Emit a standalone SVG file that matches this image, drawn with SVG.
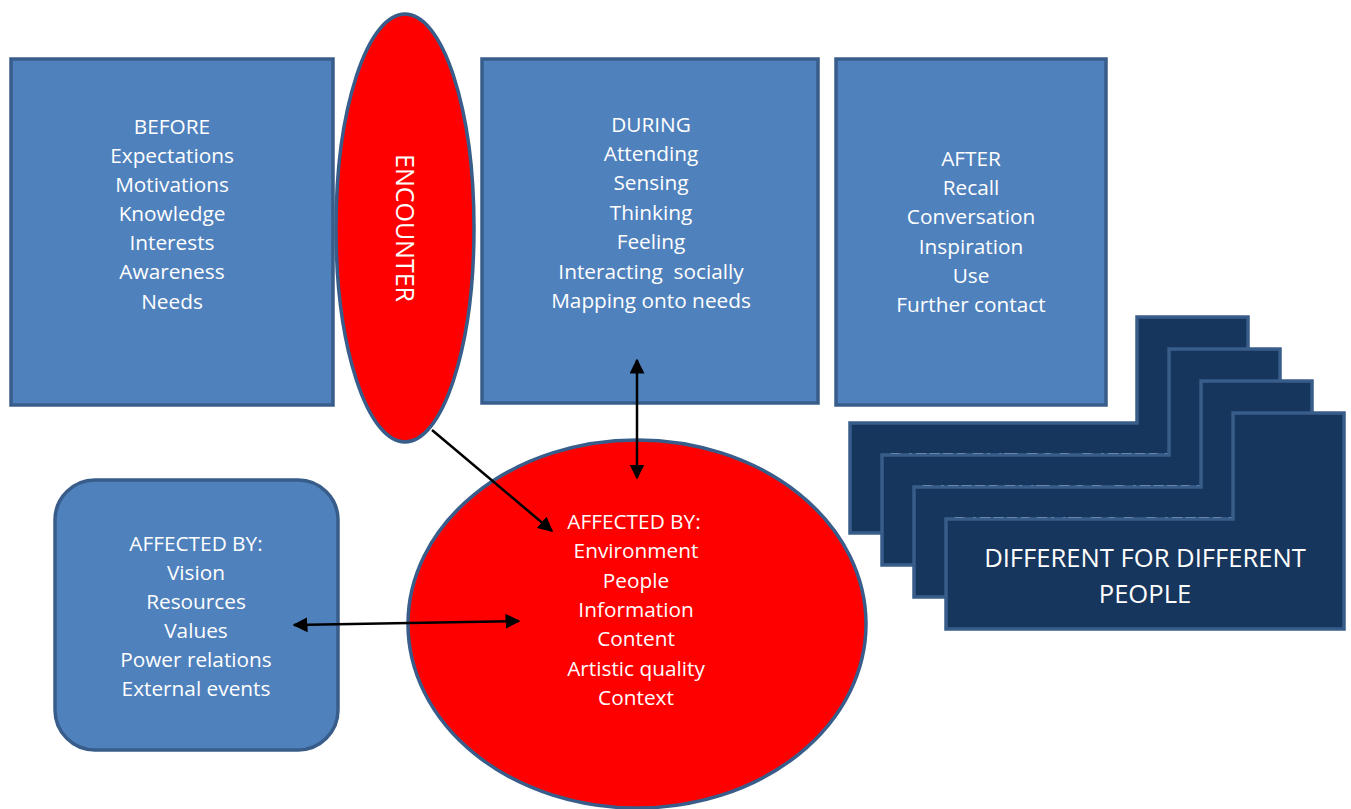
<svg xmlns="http://www.w3.org/2000/svg" width="1351" height="809" viewBox="0 0 1351 809">
<defs>
<style>
.box{fill:#4f81bd;stroke:#385d8a;stroke-width:3.5}
.red{fill:#ff0000;stroke:#385d8a;stroke-width:3.5}
.card{fill:#17365d;stroke:#385d8a;stroke-width:3.5}
text{font-family:"Open Sans","Liberation Sans",sans-serif;fill:#ffffff;text-anchor:middle}
.t{font-size:20.8px}
.c{font-size:25.6px}
.ln{stroke:#000;stroke-width:2.5;fill:none}
</style>
<marker id="ah" viewBox="0 0 10 10" refX="9" refY="5" markerWidth="6" markerHeight="6" markerUnits="strokeWidth" orient="auto-start-reverse">
<path d="M0,0 L10,5 L0,10 z" fill="#000"/>
</marker>
</defs>
<rect width="1351" height="809" fill="#ffffff"/>

<g id="before">
<rect class="box" x="11" y="59" width="322" height="346"/>
<text class="t" x="172" y="134">BEFORE</text>
<text class="t" x="172" y="163">Expectations</text>
<text class="t" x="172" y="192">Motivations</text>
<text class="t" x="172" y="221">Knowledge</text>
<text class="t" x="172" y="250">Interests</text>
<text class="t" x="172" y="279">Awareness</text>
<text class="t" x="172" y="309">Needs</text>
</g>

<g id="during">
<rect class="box" x="482" y="59" width="336" height="344"/>
<text class="t" x="651" y="132">DURING</text>
<text class="t" x="651" y="161">Attending</text>
<text class="t" x="651" y="190">Sensing</text>
<text class="t" x="651" y="220">Thinking</text>
<text class="t" x="651" y="249">Feeling</text>
<text class="t" x="651" y="279" xml:space="preserve">Interacting  socially</text>
<text class="t" x="651" y="308">Mapping onto needs</text>
</g>

<g id="after">
<rect class="box" x="836" y="59" width="270" height="346"/>
<text class="t" x="971" y="166">AFTER</text>
<text class="t" x="971" y="195">Recall</text>
<text class="t" x="971" y="224">Conversation</text>
<text class="t" x="971" y="254">Inspiration</text>
<text class="t" x="971" y="283">Use</text>
<text class="t" x="971" y="312">Further contact</text>
</g>

<g id="encounter">
<ellipse class="red" cx="405" cy="228" rx="69" ry="214"/>
<text transform="translate(405,228) rotate(90)" x="0" y="9" style="font-size:25px">ENCOUNTER</text>
</g>

<g id="affected-left">
<rect class="box" x="55" y="480" width="283" height="270" rx="40" ry="40"/>
<text class="t" x="196" y="551">AFFECTED BY:</text>
<text class="t" x="196" y="580">Vision</text>
<text class="t" x="196" y="609">Resources</text>
<text class="t" x="196" y="638">Values</text>
<text class="t" x="196" y="667">Power relations</text>
<text class="t" x="196" y="696">External events</text>
</g>

<g id="affected-center">
<ellipse class="red" cx="637" cy="624" rx="229" ry="184"/>
<text class="t" x="634" y="529">AFFECTED BY:</text>
<text class="t" x="636" y="558">Environment</text>
<text class="t" x="636" y="588">People</text>
<text class="t" x="636" y="617">Information</text>
<text class="t" x="636" y="646">Content</text>
<text class="t" x="636" y="676">Artistic quality</text>
<text class="t" x="636" y="705">Context</text>
</g>

<g id="card1">
<path class="card" d="M850,423 H1137 V317 H1248 V533 H850 Z"/>
<text class="c" x="1049" y="471">DIFFERENT FOR DIFFERENT</text>
</g>
<g id="card2">
<path class="card" d="M882,455 H1169 V349 H1280 V565 H882 Z"/>
<text class="c" x="1081" y="503">DIFFERENT FOR DIFFERENT</text>
</g>
<g id="card3">
<path class="card" d="M914,487 H1201 V381 H1312 V597 H914 Z"/>
<text class="c" x="1113" y="535">DIFFERENT FOR DIFFERENT</text>
</g>
<g id="card4">
<path class="card" d="M946,519 H1233 V413 H1344 V629 H946 Z"/>
<text class="c" x="1145" y="567">DIFFERENT FOR DIFFERENT</text>
<text class="c" x="1145" y="603">PEOPLE</text>
</g>

<g id="connectors">
<line class="ln" x1="432" y1="430" x2="552" y2="531" marker-end="url(#ah)"/>
<line class="ln" x1="637" y1="360" x2="637" y2="478" marker-start="url(#ah)" marker-end="url(#ah)"/>
<line class="ln" x1="294" y1="625" x2="519" y2="621" marker-start="url(#ah)" marker-end="url(#ah)"/>
</g>
</svg>
